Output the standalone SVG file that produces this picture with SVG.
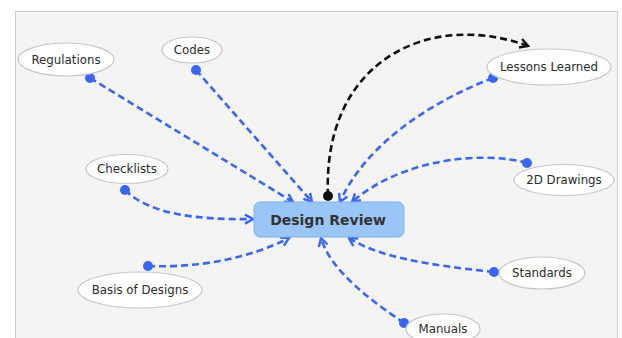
<svg xmlns="http://www.w3.org/2000/svg" width="622" height="338" viewBox="0 0 622 338">
  <style>
    .topic ellipse { fill: #ffffff; stroke: #c6c6c6; stroke-width: 1.2; }
    .topic text { font-family: "DejaVu Sans", Verdana, sans-serif; font-size: 11.8px; fill: #2b2b2b; text-anchor: middle; dominant-baseline: central; }
    .link { fill: none; stroke: #3a66f5; stroke-width: 2.6; stroke-dasharray: 7 4; marker-start: url(#dot); marker-end: url(#chev); }
    .flow { fill: none; stroke: #111111; stroke-width: 2.6; stroke-dasharray: 7 4; marker-start: url(#dotK); marker-end: url(#chevK); }
  </style>
  <defs>
    <marker id="dot" viewBox="-6 -6 12 12" markerWidth="12" markerHeight="12" refX="0" refY="0" markerUnits="userSpaceOnUse">
      <circle r="5" fill="#3a66f5"/>
    </marker>
    <marker id="dotK" viewBox="-6 -6 12 12" markerWidth="12" markerHeight="12" refX="0" refY="0" markerUnits="userSpaceOnUse">
      <circle r="5" fill="#111111"/>
    </marker>
    <marker id="chev" viewBox="-10 -6 12 12" markerWidth="12" markerHeight="12" refX="0" refY="0" orient="auto" markerUnits="userSpaceOnUse">
      <path d="M-8,-4.5 L0,0 L-8,4.5" fill="none" stroke="#3a66f5" stroke-width="2.4"/>
    </marker>
    <marker id="chevK" viewBox="-10 -6 12 12" markerWidth="12" markerHeight="12" refX="0" refY="0" orient="auto" markerUnits="userSpaceOnUse">
      <path d="M-8,-4.5 L0,0 L-8,4.5" fill="none" stroke="#111111" stroke-width="2.4"/>
    </marker>
  </defs>

  <rect x="0" y="0" width="622" height="338" fill="#ffffff"/>
  <rect x="15.5" y="11.5" width="602" height="340" fill="#f4f4f4" stroke="#cccccc" stroke-width="1"/>

  <g id="connectors">
    <path class="link" d="M90,78 L293,202"/>
    <path class="link" d="M196,70 L312,202"/>
    <path class="link" d="M493,78 C430,102 365,145 340,202"/>
    <path class="link" d="M527,163 C480,150 400,160 352,202"/>
    <path class="link" d="M125,190 C150,215 200,220 253,219"/>
    <path class="link" d="M148,266 C200,268 250,258 289,238"/>
    <path class="link" d="M494,272 C430,265 380,258 349,238"/>
    <path class="link" d="M404,323 C370,300 330,270 321,238"/>
    <path class="flow" d="M328,196 C322,60 430,10 528,46"/>
  </g>

  <g id="design-review">
    <rect x="254" y="202" width="150" height="35" rx="6" fill="#99c5f7" stroke="#7fb0ea" stroke-width="1"/>
    <text x="328" y="220" font-family="DejaVu Sans, Verdana, sans-serif" font-size="14" font-weight="bold" fill="#333333" text-anchor="middle" dominant-baseline="central">Design Review</text>
  </g>

  <g id="regulations" class="topic">
    <ellipse cx="66" cy="59.5" rx="48" ry="16.5"/>
    <text x="66" y="59.5">Regulations</text>
  </g>
  <g id="codes" class="topic">
    <ellipse cx="192" cy="50" rx="30" ry="13"/>
    <text x="192" y="50">Codes</text>
  </g>
  <g id="lessons-learned" class="topic">
    <ellipse cx="549" cy="67" rx="62" ry="18"/>
    <text x="549" y="67">Lessons Learned</text>
  </g>
  <g id="drawings-2d" class="topic">
    <ellipse cx="564" cy="180" rx="50" ry="15.5"/>
    <text x="564" y="180">2D Drawings</text>
  </g>
  <g id="checklists" class="topic">
    <ellipse cx="127" cy="169" rx="41" ry="14.5"/>
    <text x="127" y="169">Checklists</text>
  </g>
  <g id="basis-of-designs" class="topic">
    <ellipse cx="140" cy="290" rx="62" ry="18"/>
    <text x="140" y="290">Basis of Designs</text>
  </g>
  <g id="standards" class="topic">
    <ellipse cx="542" cy="273" rx="43" ry="16"/>
    <text x="542" y="273">Standards</text>
  </g>
  <g id="manuals" class="topic">
    <ellipse cx="443" cy="329" rx="37" ry="15"/>
    <text x="443" y="329">Manuals</text>
  </g>
</svg>
